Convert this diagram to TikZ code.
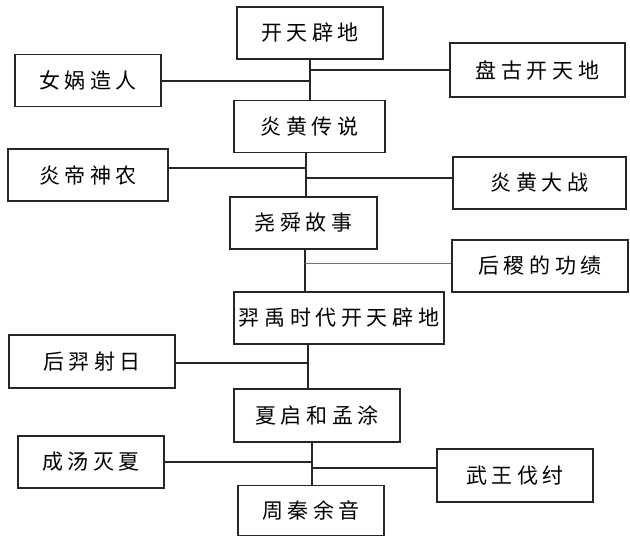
\documentclass[tikz,border=0pt]{standalone}
\usepackage{fontspec}
\newfontfamily\cjk[LetterSpace=22]{Noto Sans CJK SC}

\begin{document}
\begin{tikzpicture}[x=1pt, y=-1pt,
		story/.style={draw=black!85, line width=1.2pt, inner sep=0pt, minimum height=52pt, font=\cjk\fontsize{21}{25}\selectfont},
		link/.style={line width=1.1pt, color=black!85}]
		%%%%% START %%%%%
		
		\useasboundingbox (0,0) rectangle (630,537);
		
		\node[story, minimum width=146pt] (kaitian) at (310,33) {开天辟地};
		\node[story, minimum width=146pt] (nvwa) at (88,80.5) {女娲造人};
		\node[story, minimum width=175pt, minimum height=54pt] (pangu) at (537.5,70) {盘古开天地};
		
		\node[story, minimum width=151pt] (yanhuang) at (309.5,126.5) {炎黄传说};
		\node[story, minimum width=160pt] (yandi) at (88,175) {炎帝神农};
		\node[story, minimum width=173pt] (dazhan) at (539.5,183) {炎黄大战};
		
		\node[story, minimum width=147pt] (yaoshun) at (303.5,223) {尧舜故事};
		\node[story, minimum width=176pt] (houji) at (540,266) {后稷的功绩};
		
		\node[story, minimum width=210pt] (yiyu) at (339,318) {羿禹时代开天辟地};
		\node[story, minimum width=166pt, minimum height=53pt] (houyi) at (92,361.5) {后羿射日};
		
		\node[story, minimum width=166pt, minimum height=53pt] (xiaqi) at (317,415.5) {夏启和孟涂};
		\node[story, minimum width=146pt] (chengtang) at (91,462) {成汤灭夏};
		\node[story, minimum width=156pt, minimum height=53pt] (wuwang) at (515,475.5) {武王伐纣};
		
		\node[story, minimum width=146pt, minimum height=50pt] (zhouqin) at (311,510.5) {周秦余音};
		
		% trunk and branches
		\draw[link] (kaitian.south) -- (kaitian.south |- yanhuang.north);
		\draw[link] ([yshift=-0.5pt]nvwa.east) -- ([yshift=-0.5pt]nvwa.east -| kaitian.south);
		\draw[link] (pangu.west) -- (pangu.west -| kaitian.south);
		
		\coordinate (t2) at ([xshift=-3.5pt]yanhuang.south);
		\draw[link] (t2) -- (t2 |- yaoshun.north);
		\draw[link] ([yshift=7pt]yandi.east) -- ([yshift=7pt]yandi.east -| t2);
		\draw[link] ([yshift=5pt]dazhan.west) -- ([yshift=5pt]dazhan.west -| t2);
		
		\coordinate (t3) at ([xshift=1.5pt]yaoshun.south);
		\draw[link] (t3) -- (t3 |- yiyu.north);
		\draw[line width=1pt, color=black!55] ([yshift=2pt]houji.west) -- ([yshift=2pt]houji.west -| t3);
		
		\coordinate (t4) at ([xshift=-31pt]yiyu.south);
		\draw[link] (t4) -- (t4 |- xiaqi.north);
		\draw[link] ([yshift=-1.5pt]houyi.east) -- ([yshift=-1.5pt]houyi.east -| t4);
		
		\coordinate (t5) at ([xshift=-5pt]xiaqi.south);
		\draw[link] (t5) -- (t5 |- zhouqin.north);
		\draw[link] (chengtang.east) -- (chengtang.east -| t5);
		\draw[link] ([yshift=7.5pt]wuwang.west) -- ([yshift=7.5pt]wuwang.west -| t5);
		
		%%%%% END %%%%%
\end{tikzpicture}
\end{document}
